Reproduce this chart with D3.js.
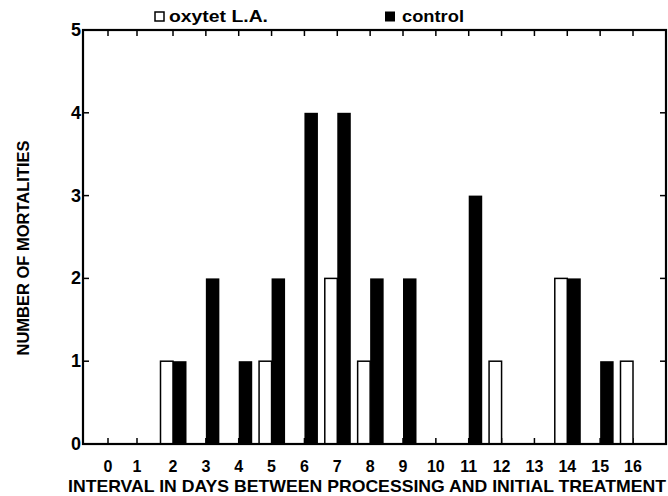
<!DOCTYPE html>
<html>
<head>
<meta charset="UTF-8">
<title>mortalities by interval</title>
<script src="https://cdnjs.cloudflare.com/ajax/libs/d3/7.8.5/d3.min.js"></script>
<style>
  body { margin: 0; background: #fff; }
  text { font-family: "Liberation Sans", Arial, sans-serif; font-weight: bold; fill: #000; }
</style>
</head>
<body>
<script>
  // interval in days (x categories)
  var days = d3.range(0, 17);
  var oxytetDays = [2, 5, 7, 8, 12, 14, 16];
  var oxytetVals = [1, 1, 2, 1, 1, 2, 1];
  var controlDays = [2, 3, 4, 5, 6, 7, 8, 9, 11, 14, 15];
  var controlVals = [1, 2, 1, 2, 4, 4, 2, 2, 3, 2, 1];
  var yTicks = [0, 1, 2, 3, 4, 5];

  var W = 668, H = 496;
  // note: "top" is taken by window.top, so use other names
  var plotL = 83, plotR = 666, plotT = 30, plotB = 444;

  var svg = d3.select('body').append('svg')
    .attr('width', W)
    .attr('height', H);

  // the original spaces 0 and 1 a bit tighter than the rest
  var x = d3.scaleLinear().domain([0, 1, 2, 16]).range([108, 137, 173, 633]);
  var y = d3.scaleLinear().domain([0, 5]).range([plotB, plotT]);
  var bw = 12.5;

  // ticks on all four sides, pointing in
  var tk = 6;
  svg.append('g').selectAll('line').data(days).join('line')
    .attr('x1', d => x(d)).attr('x2', d => x(d))
    .attr('y1', plotT).attr('y2', plotT + tk)
    .attr('stroke', '#000').attr('stroke-width', 1.5);
  svg.append('g').selectAll('line').data(days).join('line')
    .attr('x1', d => x(d)).attr('x2', d => x(d))
    .attr('y1', plotB).attr('y2', plotB - tk)
    .attr('stroke', '#000').attr('stroke-width', 1.5);
  svg.append('g').selectAll('line').data(yTicks).join('line')
    .attr('x1', plotL).attr('x2', plotL + tk)
    .attr('y1', d => y(d)).attr('y2', d => y(d))
    .attr('stroke', '#000').attr('stroke-width', 1.5);
  svg.append('g').selectAll('line').data(yTicks).join('line')
    .attr('x1', plotR).attr('x2', plotR - tk)
    .attr('y1', d => y(d)).attr('y2', d => y(d))
    .attr('stroke', '#000').attr('stroke-width', 1.5);

  // bars
  svg.append('g').selectAll('rect').data(d3.zip(oxytetDays, oxytetVals)).join('rect')
    .attr('x', d => x(d[0]) - bw)
    .attr('y', d => y(d[1]))
    .attr('width', bw)
    .attr('height', d => y(0) - y(d[1]))
    .attr('fill', '#fff')
    .attr('stroke', '#000')
    .attr('stroke-width', 1.5);
  svg.append('g').selectAll('rect').data(d3.zip(controlDays, controlVals)).join('rect')
    .attr('x', d => x(d[0]))
    .attr('y', d => y(d[1]))
    .attr('width', bw + 1)
    .attr('height', d => y(0) - y(d[1]))
    .attr('fill', '#000');

  // frame
  svg.append('rect')
    .attr('x', plotL).attr('y', plotT)
    .attr('width', plotR - plotL).attr('height', plotB - plotT)
    .attr('fill', 'none').attr('stroke', '#000').attr('stroke-width', 2.2);

  // tick labels
  svg.append('g').selectAll('text').data(days).join('text')
    .attr('x', d => x(d)).attr('y', 472)
    .attr('text-anchor', 'middle')
    .style('font-size', '16px')
    .text(d => d);
  svg.append('g').selectAll('text').data(yTicks).join('text')
    .attr('x', plotL - 2).attr('y', d => y(d) + 6)
    .attr('text-anchor', 'end')
    .style('font-size', '18px')
    .text(d => d);

  // axis titles
  svg.append('text')
    .attr('x', 68).attr('y', 492)
    .attr('textLength', 598).attr('lengthAdjust', 'spacingAndGlyphs')
    .style('font-size', '17px')
    .text('INTERVAL IN DAYS BETWEEN PROCESSING AND INITIAL TREATMENT');
  svg.append('text')
    .attr('transform', 'translate(29,248) rotate(-90)')
    .attr('text-anchor', 'middle')
    .attr('textLength', 215).attr('lengthAdjust', 'spacingAndGlyphs')
    .style('font-size', '17px')
    .text('NUMBER OF MORTALITIES');

  // legend
  svg.append('rect').attr('x', 155).attr('y', 12).attr('width', 9).attr('height', 9)
    .attr('fill', '#fff').attr('stroke', '#000').attr('stroke-width', 1.5);
  svg.append('text').attr('x', 169).attr('y', 22)
    .attr('textLength', 99).attr('lengthAdjust', 'spacingAndGlyphs')
    .style('font-size', '17px').text('oxytet L.A.');
  svg.append('rect').attr('x', 385).attr('y', 11.5).attr('width', 10).attr('height', 10)
    .attr('fill', '#000');
  svg.append('text').attr('x', 402).attr('y', 22)
    .attr('textLength', 62).attr('lengthAdjust', 'spacingAndGlyphs')
    .style('font-size', '17px').text('control');
</script>
</body>
</html>
